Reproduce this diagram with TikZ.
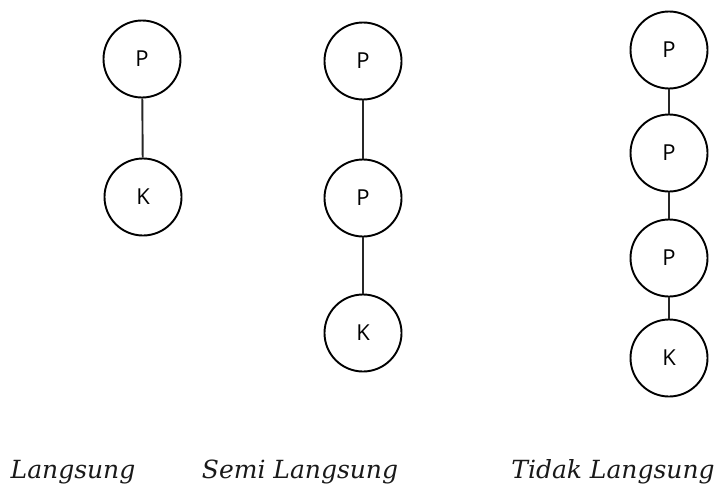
\documentclass[tikz,border=0pt]{standalone}
\usepackage{fontspec}
\setmainfont{DejaVu Serif}
\newfontfamily\lettersans{Open Sans}
\begin{document}
\begin{tikzpicture}[x=1pt,y=-1pt,
  unit/.style={circle,draw=black,line width=1.9pt,minimum size=77pt,inner sep=0pt,
    font=\lettersans\fontsize{22}{22}\selectfont},
  link/.style={line width=1.9pt,draw=black!85},
  caption/.style={anchor=base,inner sep=0pt,font=\itshape\fontsize{25}{25}\selectfont,text=black!90}]
\useasboundingbox (0,0) rectangle (719,487);

% Langsung
\node[unit] (a1) at (142,59) {P};
\node[unit] (a2) at (143,197) {K};
\draw[link] (a1) -- (a2);

% Semi Langsung
\node[unit] (b1) at (363,61) {P};
\node[unit] (b2) at (363,198) {P};
\node[unit] (b3) at (363,333) {K};
\draw[link] (b1) -- (b2);
\draw[link] (b2) -- (b3);

% Tidak Langsung
\node[unit] (c1) at (669,50) {P};
\node[unit] (c2) at (669,153) {P};
\node[unit] (c3) at (669,258) {P};
\node[unit] (c4) at (669,358) {K};
\draw[link] (c1) -- (c2);
\draw[link] (c2) -- (c3);
\draw[link] (c3) -- (c4);

% captions
\node[caption] (ta) at (73,478) {Langsung};
\node[caption] (tb) at (300,478) {Semi Langsung};
\node[caption] (tc) at (613,478) {Tidak Langsung};
\end{tikzpicture}
\end{document}
